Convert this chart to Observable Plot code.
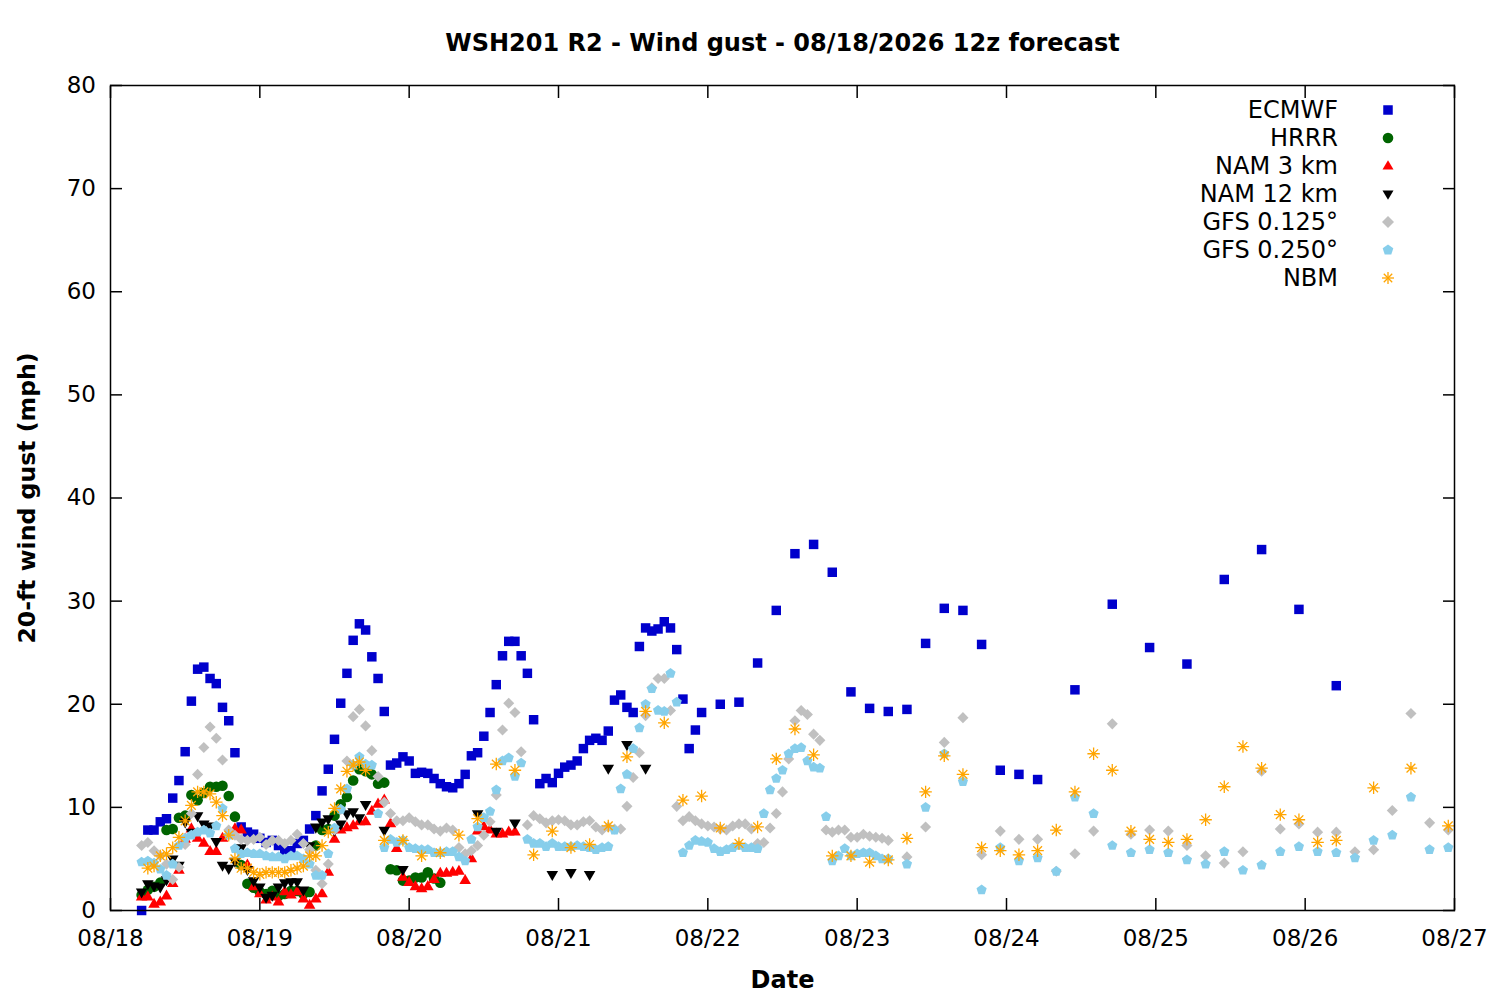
<!DOCTYPE html>
<html>
<head>
<meta charset="utf-8">
<script src="https://cdn.jsdelivr.net/npm/d3@7"></script>
<script src="https://cdn.jsdelivr.net/npm/@observablehq/plot@0.6"></script>
<style>
  body { margin: 0; background: #fff; font-family: "DejaVu Sans", sans-serif; }
  #wrap { position: relative; width: 1500px; height: 1000px; }
  #legend { position: absolute; left: 1000px; top: 96px; width: 420px; font: 24px "DejaVu Sans", sans-serif; color: #000; }
  .row { height: 28px; display: flex; align-items: center; }
  .row span { display: inline-block; width: 338px; text-align: right; line-height: 28px; white-space: nowrap; }
  .row svg { margin-left: 40px; width: 20px; height: 20px; overflow: visible; }
</style>
</head>
<body>
<div id="wrap">
  <div id="chart"></div>
  <div id="legend"></div>
</div>
<script>
// ---------- text ----------
const titleText = "WSH201 R2 - Wind gust - 08/18/2026 12z forecast";
const yLabelText = "20-ft wind gust (mph)";
const xLabelText = "Date";
const yTicks = [0, 10, 20, 30, 40, 50, 60, 70, 80];
const dayLabels = ["08/18", "08/19", "08/20", "08/21", "08/22", "08/23", "08/24", "08/25", "08/26", "08/27"];
const modelNames = ["ECMWF", "HRRR", "NAM 3 km", "NAM 12 km", "GFS 0.125°", "GFS 0.250°", "NBM"];

// forecast start: 08/18 05:00 local (12z); hours are forecast hours
const ecmwfHours = [...d3.range(0, 91), ...d3.range(93, 145, 3), ...d3.range(150, 193, 6)];
const ecmwfValues = [
  0, 7.8, 7.8, 8.6, 8.9, 10.9, 12.6, 15.4, 20.3, 23.4,
  23.6, 22.5, 22.0, 19.7, 18.4, 15.3, 8.1, 7.6, 7.4, 7.0,
  6.6, 6.8, 6.3, 5.8, 5.8, 6.5, 6.8, 7.9, 9.2, 11.6,
  13.7, 16.6, 20.1, 23.0, 26.2, 27.8, 27.2, 24.6, 22.5, 19.3,
  14.1, 14.3, 14.9, 14.5, 13.3, 13.4, 13.3, 12.8, 12.3, 12.0,
  11.9, 12.3, 13.2, 15.0, 15.3, 16.9, 19.2, 21.9, 24.7, 26.1,
  26.1, 24.7, 23.0, 18.5, 12.3, 12.8, 12.4, 13.3, 13.9, 14.1,
  14.5, 15.7, 16.5, 16.7, 16.5, 17.4, 20.4, 20.9, 19.7, 19.2,
  25.6, 27.4, 27.1, 27.3, 28.0, 27.4, 25.3, 20.5, 15.7, 17.5, 19.2,
  20.0, 20.2, 24.0, 29.1, 34.6, 35.5, 32.8, 21.2, 19.6, 19.3, 19.5, 25.9, 29.3, 29.1, 25.8, 13.6, 13.2, 12.7,
  21.4, 29.7, 25.5, 23.9, 32.1, 35.0, 29.2, 21.8
];

const hrrrHours = d3.range(0, 49);
const hrrrValues = [
  1.5, 2.0, 2.3, 2.7, 7.8, 7.9, 9.0, 9.2, 11.2, 10.7,
  11.4, 12.0, 12.0, 12.1, 11.1, 9.1, 4.4, 2.6, 2.2, 1.8,
  1.6, 1.9, 1.4, 1.6, 1.9, 1.9, 1.6, 1.8, 6.3, 7.8,
  7.9, 9.2, 10.3, 11.0, 12.6, 13.7, 13.5, 13.2, 12.3, 12.4,
  4.0, 3.9, 2.9, 2.9, 3.2, 3.2, 3.7, 3.1, 2.7
];

const nam3Hours = d3.range(0, 61);
const nam3Values = [
  1.3, 1.3, 0.6, 0.8, 1.4, 2.6, 3.9, 6.9, 7.9, 7.0,
  6.5, 5.7, 5.7, 7.0, 7.5, 7.9, 7.8, 4.4, 2.3, 1.6,
  1.0, 1.3, 0.8, 1.8, 1.5, 1.8, 1.1, 0.5, 1.1, 1.6,
  3.7, 6.9, 7.8, 8.0, 8.2, 8.6, 8.6, 9.6, 10.3, 10.7,
  8.4, 6.0, 3.2, 2.7, 2.3, 2.1, 2.3, 3.0, 3.6, 3.6,
  3.7, 3.8, 2.9, 5.0, 7.7, 8.1, 7.8, 7.4, 7.4, 7.6,
  7.6
];

const nam12Hours = [...d3.range(0, 37), 39, 42, 54, 57, 60, 66, 69, 72, 75, 78, 81];
const nam12Values = [
  1.8, 2.6, 2.4, 2.3, 3.0, 5.0, 4.4, 8.6, 7.6, 9.2,
  8.4, 8.2, 6.7, 4.4, 4.1, 4.8, 6.1, 4.0, 2.9, 2.3,
  1.3, 1.5, 2.3, 2.7, 2.8, 2.8, 2.0, 6.3, 8.1, 8.6,
  8.9, 7.8, 8.4, 9.4, 9.6, 9.0, 10.3,
  7.8, 4.0, 9.4, 7.7, 8.5, 3.5, 3.7, 3.5, 13.8, 16.1, 13.8
];

const gfsHours = [...d3.range(0, 121), ...d3.range(123, 211, 3)];
const gfs125Values = [
  6.3, 6.6, 5.8, 5.3, 4.5, 3.0, 4.2, 6.4, 9.4, 13.2,
  15.8, 17.8, 16.7, 14.6, 7.8, 7.3, 6.9, 6.8, 6.9, 7.1,
  6.4, 6.8, 6.8, 6.5, 6.8, 7.4, 6.5, 5.9, 3.9, 2.6,
  4.5, 7.8, 9.8, 14.5, 18.8, 19.5, 17.9, 15.5, 13.0, 10.5,
  9.4, 8.7, 8.7, 9.0, 8.6, 8.3, 8.3, 7.9, 7.7, 8.0,
  7.8, 6.1, 5.5, 5.8, 6.3, 7.3, 8.6, 11.2, 17.5, 20.1,
  19.2, 15.4, 8.3, 9.2, 8.9, 8.5, 8.7, 8.8, 8.7, 8.3,
  8.3, 8.6, 8.7, 8.1, 7.8, 8.1, 7.9, 7.9, 10.1, 12.9,
  15.3, 18.9, 21.6, 22.5, 22.5, 19.4, 10.1, 8.7, 9.1, 8.7,
  8.4, 8.2, 8.1, 7.9, 7.8, 8.2, 8.4, 8.4, 7.9, 6.5,
  6.6, 8.0, 9.4, 11.5, 14.7, 18.4, 19.4, 19.0, 17.1, 16.5,
  7.8, 7.6, 7.8, 7.8, 7.1, 7.1, 7.4, 7.2, 7.1, 7.0, 6.8,
  5.2, 8.1, 16.3, 18.7, 5.4, 7.7, 6.9, 6.9, 3.8, 5.5,
  7.7, 18.1, 7.4, 7.8, 7.7, 6.3, 5.3, 4.6, 5.7, 13.5,
  7.9, 8.4, 7.6, 7.6, 5.7, 5.9, 9.7, 19.1, 8.5, 7.8
];
const gfs250Values = [
  4.7, 4.8, 4.6, 4.0, 3.4, 4.5, 6.3, 7.0, 7.3, 7.6,
  7.8, 7.5, 8.2, 9.9, 7.3, 6.0, 5.5, 5.6, 5.5, 5.5,
  5.3, 5.2, 5.2, 5.0, 5.3, 5.3, 5.0, 4.5, 3.4, 3.4,
  5.5, 8.0, 9.8, 11.8, 14.1, 14.9, 14.2, 14.1, 9.4, 6.1,
  6.9, 6.6, 6.8, 6.1, 6.0, 5.9, 5.9, 5.6, 5.6, 5.7,
  5.7, 5.2, 4.8, 6.9, 8.1, 9.0, 9.6, 11.7, 14.5, 14.8,
  13.0, 14.3, 6.9, 6.5, 6.5, 6.2, 6.5, 6.2, 6.2, 6.2,
  6.3, 6.2, 6.1, 5.9, 6.1, 6.2, 7.8, 11.8, 13.2, 15.7,
  17.7, 20.0, 21.5, 19.4, 19.3, 23.0, 20.2, 5.6, 6.3, 6.8,
  6.7, 6.6, 6.0, 5.7, 5.9, 6.1, 6.3, 6.1, 6.1, 6.0,
  9.4, 11.7, 12.8, 13.6, 15.2, 15.7, 15.8, 14.5, 13.9, 13.8,
  9.1, 4.8, 5.3, 6.0, 5.3, 5.5, 5.6, 5.6, 5.3, 5.0, 5.0,
  4.5, 10.0, 15.2, 12.5, 2.0, 6.1, 4.8, 5.1, 3.8, 11.0,
  9.4, 6.3, 5.6, 5.9, 5.6, 4.9, 4.5, 5.7, 3.9, 4.4,
  5.7, 6.2, 5.7, 5.6, 5.1, 6.8, 7.3, 11.0, 5.9, 6.1
];

const nbmHours = [...d3.range(1, 37), ...d3.range(39, 193, 3), 198, 204, 210];
const nbmValues = [
  4.1, 4.3, 5.3, 5.5, 6.1, 7.1, 8.7, 10.2, 11.5, 11.5,
  11.3, 10.5, 9.2, 7.3, 5.0, 4.1, 4.1, 3.7, 3.5, 3.7,
  3.7, 3.7, 3.7, 3.9, 4.1, 4.3, 5.3, 5.3, 6.3, 7.6,
  9.9, 11.8, 13.5, 14.1, 14.4, 13.6,
  6.8, 6.8, 5.3, 5.6, 7.3, 8.9, 14.2, 13.6,
  5.4, 7.7, 6.1, 6.4, 8.2, 14.9, 19.3, 18.2,
  10.7, 11.1, 8.0, 6.5, 8.1, 14.7, 17.6, 15.1,
  5.3, 5.3, 4.7, 4.9, 7.0, 11.5, 15.0, 13.2,
  6.1, 5.8, 5.4, 5.8, 7.8, 11.5, 15.2, 13.6,
  7.7, 6.9, 6.6, 6.9, 8.8, 12.0, 15.9, 13.8,
  9.3, 8.8, 6.6, 6.8,
  11.9, 13.8, 8.2
];

// ---------- build rows ----------
const toRows = (hours, values) => hours.map((h, i) => ({ t: new Date(Date.UTC(2026, 7, 18, 5 + h)), v: values[i] }));
const ecmwf = toRows(ecmwfHours, ecmwfValues);
const hrrr = toRows(hrrrHours, hrrrValues);
const nam3 = toRows(nam3Hours, nam3Values);
const nam12 = toRows(nam12Hours, nam12Values);
const gfs125 = toRows(gfsHours, gfs125Values);
const gfs250 = toRows(gfsHours, gfs250Values);
const nbm = toRows(nbmHours, nbmValues);

const dayTicks = dayLabels.map(s => new Date(Date.UTC(2026, +s.slice(0, 2) - 1, +s.slice(3))));

// ---------- custom symbols ----------
const SQ3 = Math.sqrt(3);
const triDown = { draw(ctx, size) {
  const y = Math.sqrt(size / (SQ3 * 3));
  ctx.moveTo(0, y * 2); ctx.lineTo(-SQ3 * y, -y); ctx.lineTo(SQ3 * y, -y); ctx.closePath();
}};
const pentagon = { draw(ctx, size) {
  const R = Math.sqrt(size / Math.PI) * 1.05;
  for (let k = 0; k < 5; k++) {
    const a = -Math.PI / 2 + k * 2 * Math.PI / 5;
    k ? ctx.lineTo(R * Math.cos(a), R * Math.sin(a)) : ctx.moveTo(R * Math.cos(a), R * Math.sin(a));
  }
  ctx.closePath();
}};
const star8 = { draw(ctx, size) {
  const L = Math.sqrt(size / Math.PI) * 1.15, d = L * Math.SQRT1_2;
  ctx.moveTo(0, -L); ctx.lineTo(0, L);
  ctx.moveTo(-L, 0); ctx.lineTo(L, 0);
  ctx.moveTo(-d, -d); ctx.lineTo(d, d);
  ctx.moveTo(-d, d); ctx.lineTo(d, -d);
}};

const colors = { ecmwf: "#0000cc", hrrr: "#006400", nam3: "#ff0000", nam12: "#000000", gfs125: "#c0c0c0", gfs250: "#87ceeb", nbm: "#ffa500" };

const chart = Plot.plot({
  width: 1500,
  height: 1000,
  marginLeft: 110,
  marginRight: 46,
  marginTop: 85,
  marginBottom: 90,
  style: { background: "white", color: "black", fontFamily: "DejaVu Sans, sans-serif", fontSize: "23px", overflow: "visible" },
  x: { type: "utc", domain: [dayTicks[0], dayTicks[dayTicks.length - 1]] },
  y: { domain: [0, 80] },
  marks: [
    Plot.dot(ecmwf, { x: "t", y: "v", symbol: "square", r: 5.35, fill: colors.ecmwf }),
    Plot.dot(hrrr, { x: "t", y: "v", symbol: "circle", r: 5.3, fill: colors.hrrr }),
    Plot.dot(nam3, { x: "t", y: "v", symbol: "triangle", r: 4.3, fill: colors.nam3 }),
    Plot.dot(nam12, { x: "t", y: "v", symbol: triDown, r: 4.3, fill: colors.nam12 }),
    Plot.dot(gfs125, { x: "t", y: "v", symbol: "diamond2", r: 5.0, fill: colors.gfs125 }),
    Plot.dot(gfs250, { x: "t", y: "v", symbol: pentagon, r: 5.1, fill: colors.gfs250 }),
    Plot.dot(nbm, { x: "t", y: "v", symbol: star8, r: 5.4, fill: "none", stroke: colors.nbm, strokeWidth: 1.3 }),
    Plot.frame({ stroke: "black", strokeWidth: 1.5 }),
    Plot.axisX({ anchor: "bottom", ticks: dayTicks, tickFormat: d3.utcFormat("%m/%d"), tickSize: -12, tickPadding: 31, strokeWidth: 1.5, label: null }),
    Plot.axisX({ anchor: "top", ticks: dayTicks, tickSize: -12, strokeWidth: 1.5, fill: "none", label: null }),
    Plot.axisY({ anchor: "left", ticks: yTicks, tickSize: -12, tickPadding: 26.5, strokeWidth: 1.5, label: null }),
    Plot.axisY({ anchor: "right", ticks: yTicks, tickSize: -12, strokeWidth: 1.5, fill: "none", label: null }),
    Plot.text([titleText], { text: d => d, frameAnchor: "top", dy: -42, lineAnchor: "middle", textAnchor: "middle", fontWeight: "bold", fontSize: 24 }),
    Plot.text([yLabelText], { text: d => d, frameAnchor: "left", dx: -83, rotate: -90, lineAnchor: "middle", textAnchor: "middle", fontWeight: "bold", fontSize: 23.6 }),
    Plot.text([xLabelText], { text: d => d, frameAnchor: "bottom", dy: 70, lineAnchor: "middle", textAnchor: "middle", fontWeight: "bold", fontSize: 24 })
  ]
});
document.getElementById("chart").appendChild(chart);

// ---------- legend ----------
const legendSymbols = [
  `<rect x="5.25" y="5.25" width="9.5" height="9.5" fill="${colors.ecmwf}"/>`,
  `<circle cx="10" cy="10" r="5.3" fill="${colors.hrrr}"/>`,
  `<polygon points="10,4.2 15.5,13.6 4.5,13.6" fill="${colors.nam3}"/>`,
  `<polygon points="4.5,6.4 15.5,6.4 10,15.8" fill="${colors.nam12}"/>`,
  `<polygon points="10,4 16,10 10,16 4,10" fill="${colors.gfs125}"/>`,
  `<polygon points="10,4.4 15.3,8.3 13.3,14.5 6.7,14.5 4.7,8.3" fill="${colors.gfs250}"/>`,
  `<g stroke="${colors.nbm}" stroke-width="1.3"><line x1="10" y1="4" x2="10" y2="16"/><line x1="4" y1="10" x2="16" y2="10"/><line x1="5.8" y1="5.8" x2="14.2" y2="14.2"/><line x1="5.8" y1="14.2" x2="14.2" y2="5.8"/></g>`
];
document.getElementById("legend").innerHTML = modelNames.map((n, i) =>
  `<div class="row"><span>${n}</span><svg viewBox="0 0 20 20">${legendSymbols[i]}</svg></div>`).join("");
</script>
</body>
</html>
